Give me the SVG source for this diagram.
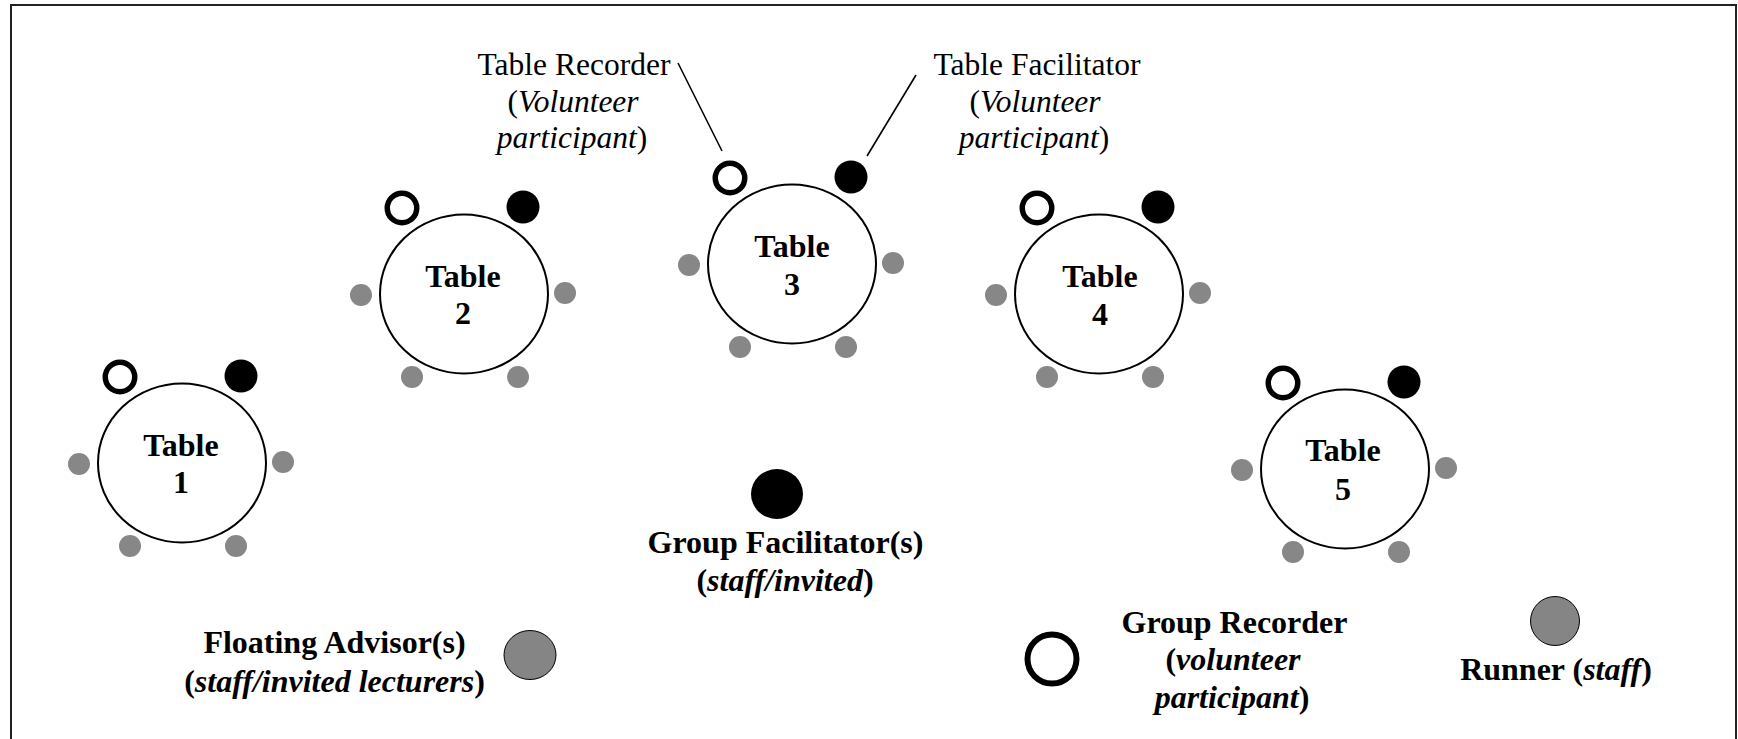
<svg xmlns="http://www.w3.org/2000/svg" width="1738" height="739" viewBox="0 0 1738 739">
<defs>
<style>
.frame{fill:none;stroke:#222;stroke-width:2}
.tbl{fill:#fff;stroke:#000;stroke-width:2}
.rec{fill:none;stroke:#000;stroke-width:5.5}
.fac{fill:#000}
.seat{fill:#878787}
.big{fill:#858585;stroke:#000;stroke-width:1}
.lead{stroke:#000;stroke-width:1.6;fill:none}
text{font-family:"Liberation Serif","Times New Roman",serif;fill:#000;text-anchor:middle}
.tl{font-size:32px;font-weight:bold}
.lbl{font-size:31.5px}
.leg{font-size:32px;font-weight:bold}
.it{font-style:italic}
</style>
<g id="tableShape">
<circle class="rec" cx="-62" cy="-86" r="14.75"/>
<circle class="fac" cx="59" cy="-87" r="16.5"/>
<ellipse class="tbl" cx="0" cy="0" rx="84" ry="79.5"/>
<circle class="seat" cx="-103" cy="1" r="11"/>
<circle class="seat" cx="101" cy="-1" r="11"/>
<circle class="seat" cx="-52" cy="83" r="11"/>
<circle class="seat" cx="54" cy="83" r="11"/>
</g>
</defs>
<rect class="frame" x="11" y="5" width="1725" height="745"/>

<g id="connectors">
<line class="lead" x1="678" y1="63" x2="722" y2="151"/>
<line class="lead" x1="916" y1="75" x2="867" y2="156"/>
</g>

<g id="table1" transform="translate(182,463)">
<use href="#tableShape"/>
<text class="tl" x="-1" y="-7">Table</text>
<text class="tl" x="-1" y="30">1</text>
</g>
<g id="table2" transform="translate(464,294)">
<use href="#tableShape"/>
<text class="tl" x="-1" y="-7">Table</text>
<text class="tl" x="-1" y="30">2</text>
</g>
<g id="table3" transform="translate(792,264)">
<use href="#tableShape"/>
<text class="tl" x="0" y="-7">Table</text>
<text class="tl" x="0" y="31">3</text>
</g>
<g id="table4" transform="translate(1099,294)">
<use href="#tableShape"/>
<text class="tl" x="1" y="-7">Table</text>
<text class="tl" x="1" y="31">4</text>
</g>
<g id="table5" transform="translate(1345,469)">
<use href="#tableShape"/>
<text class="tl" x="-2" y="-8">Table</text>
<text class="tl" x="-2" y="31">5</text>
</g>

<g id="label-table-recorder">
<text class="lbl" x="574" y="75">Table Recorder</text>
<text class="lbl" x="573" y="112">(<tspan class="it">Volunteer</tspan></text>
<text class="lbl" x="572" y="148"><tspan class="it">participant</tspan>)</text>
</g>
<g id="label-table-facilitator">
<text class="lbl" x="1037" y="75">Table Facilitator</text>
<text class="lbl" x="1035" y="112">(<tspan class="it">Volunteer</tspan></text>
<text class="lbl" x="1034" y="148"><tspan class="it">participant</tspan>)</text>
</g>

<g id="group-facilitator">
<ellipse class="fac" cx="777" cy="494" rx="26" ry="25"/>
<text class="leg" x="785.5" y="553">Group Facilitator(s)</text>
<text class="leg" x="785" y="591">(<tspan class="it">staff/invited</tspan>)</text>
</g>

<g id="floating-advisor">
<ellipse class="big" cx="530" cy="655" rx="26" ry="24.5"/>
<text class="leg" x="334.5" y="653">Floating Advisor(s)</text>
<text class="leg" x="334.5" y="692">(<tspan class="it">staff/invited lecturers</tspan>)</text>
</g>

<g id="group-recorder">
<circle cx="1052" cy="659" r="24.5" fill="none" stroke="#000" stroke-width="6"/>
<text class="leg" x="1234.5" y="633">Group Recorder</text>
<text class="leg" x="1233" y="670">(<tspan class="it">volunteer</tspan></text>
<text class="leg" x="1232" y="708"><tspan class="it">participant</tspan>)</text>
</g>

<g id="runner">
<ellipse class="big" cx="1555" cy="621" rx="24.5" ry="24.5"/>
<text class="leg" x="1556" y="680">Runner (<tspan class="it">staff</tspan>)</text>
</g>
</svg>
